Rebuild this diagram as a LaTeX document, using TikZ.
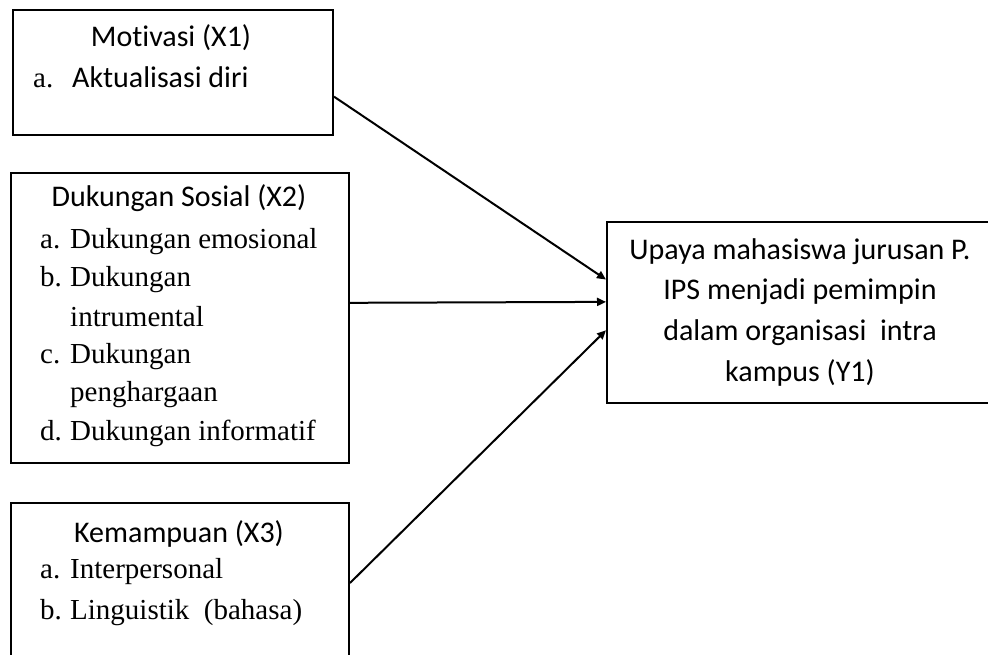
\documentclass[tikz,border=0pt]{standalone}
\usepackage{fontspec}
\setmainfont{Liberation Serif}
\newfontfamily\calibri[Ligatures=NoCommon]{Carlito}
\usetikzlibrary{arrows.meta,calc}

\begin{document}
\begin{tikzpicture}[x=1pt,y=-1pt]
\tikzstyle{box_style} = [rectangle, draw=black, line width=2, inner sep=0, anchor=north west]
\tikzstyle{head_style} = [font=\calibri\fontsize{30}{41}\selectfont, anchor=base, inner sep=0]
\tikzstyle{item_style} = [font=\fontsize{29}{39}\selectfont, anchor=base west, inner sep=0]
\tikzstyle{edge_style} = [-{Triangle[length=9,width=8]}, black, line width=2]
    \useasboundingbox (0,0) rectangle (988,655);

    % left boxes
    \node[box_style, minimum width=320, minimum height=125] (x1) at (12,9) {};
    \node[box_style, minimum width=338, minimum height=290] (x2) at (10,172) {};
    \node[box_style, minimum width=338, minimum height=160] (x3) at (10,502) {};

    % right box
    \node[box_style, minimum width=386, minimum height=181, align=center,
          font=\calibri\fontsize{30}{41}\selectfont, anchor=center] (y1) at (800,312.5)
          {Upaya mahasiswa jurusan P.\\IPS menjadi pemimpin\\dalam organisasi\ \ intra\\kampus (Y1)};

    % Motivasi
    \node[head_style] (h1) at (171,47) {Motivasi (X1)};
    \node[item_style] (a1) at (33,88) {a.};
    \node[item_style, font=\calibri\fontsize{30}{41}\selectfont] (t1) at (72,88) {Aktualisasi diri};

    % Dukungan sosial
    \node[head_style] (h2) at (179,207) {Dukungan Sosial (X2)};
    \node[item_style] (a2) at (40,248) {a.};
    \node[item_style] (t2a) at (70,248) {Dukungan emosional};
    \node[item_style] (b2) at (40,286) {b.};
    \node[item_style] (t2b) at (70,286) {Dukungan};
    \node[item_style] (t2bb) at (70,326) {intrumental};
    \node[item_style] (c2) at (40,363) {c.};
    \node[item_style] (t2c) at (70,363) {Dukungan};
    \node[item_style] (t2cc) at (70,401) {penghargaan};
    \node[item_style] (d2) at (40,440) {d.};
    \node[item_style] (t2d) at (70,440) {Dukungan informatif};

    % Kemampuan
    \node[head_style] (h3) at (179,542) {Kemampuan (X3)};
    \node[item_style] (a3) at (40,578) {a.};
    \node[item_style] (t3a) at (70,578) {Interpersonal};
    \node[item_style] (b3) at (40,619) {b.};
    \node[item_style] (t3b) at (70,619) {Linguistik\ \ (bahasa)};

    \draw[edge_style] ($(x1.north east)!0.69!(x1.south east)$) -- ($(y1.north west)!0.32!(y1.south west)$);
    \draw[edge_style] ($(x2.north east)!0.448!(x2.south east)$) -- ($(y1.north west)!0.442!(y1.south west)$);
    \draw[edge_style] (x3.east) -- ($(y1.north west)!0.597!(y1.south west)$);
\end{tikzpicture}
\end{document}
